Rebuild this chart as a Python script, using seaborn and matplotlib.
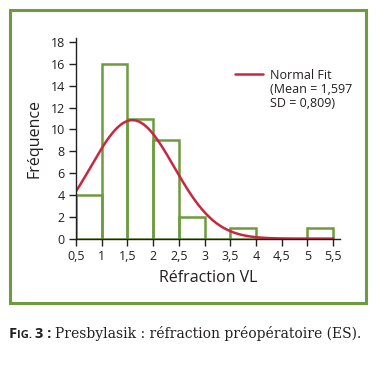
import matplotlib
matplotlib.use("Agg")
import matplotlib.pyplot as plt
import matplotlib.patches as mpatches
from matplotlib.ticker import FuncFormatter
import numpy as np
import seaborn as sns

# histogram bins (Réfraction VL) and counts
bin_edges = [0.5, 1.0, 1.5, 2.0, 2.5, 3.0, 3.5, 4.0, 4.5, 5.0, 5.5]
counts = [4, 16, 11, 9, 2, 0, 1, 0, 0, 1]
fit_mean = 1.597
fit_sd = 0.809
x_ticks = [0.5, 1, 1.5, 2, 2.5, 3, 3.5, 4, 4.5, 5, 5.5]
y_ticks = [0, 2, 4, 6, 8, 10, 12, 14, 16, 18]

GREEN = "#6e9b3f"
RED = "#c8283f"
TXT = "#231f20"

sns.set_theme(style="ticks")
plt.rcParams["font.family"] = ["Open Sans", "DejaVu Sans"]

fig = plt.figure(figsize=(3.76, 3.66), dpi=100)
ax = fig.add_axes([0.202, 0.348, 0.702, 0.549])

centers = [(a + b) / 2 for a, b in zip(bin_edges[:-1], bin_edges[1:])]
sns.histplot(x=centers, weights=counts, bins=bin_edges, fill=False,
             element="bars", color=GREEN, linewidth=1.8, ax=ax)
for p in ax.patches:
    p.set_edgecolor(GREEN)

# normal fit scaled to counts
bw = bin_edges[1] - bin_edges[0]
xs = np.linspace(bin_edges[0], bin_edges[-1], 300)
ys = sum(counts) * bw * np.exp(-0.5 * ((xs - fit_mean) / fit_sd) ** 2) / (fit_sd * np.sqrt(2 * np.pi))
sns.lineplot(x=xs, y=ys, color=RED, linewidth=1.8, ax=ax, label="Normal Fit")

ax.set_xlim(0.5, 5.63)
ax.set_ylim(0, 18.4)
ax.set_xticks(x_ticks)
ax.set_yticks(y_ticks)
fmt = FuncFormatter(lambda v, _: ("%g" % v).replace(".", ","))
ax.xaxis.set_major_formatter(fmt)
ax.tick_params(direction="out", length=5, width=1, color=TXT, labelsize=9,
               labelcolor=TXT, pad=3)
for s in ["top", "right"]:
    ax.spines[s].set_visible(False)
for s in ["left", "bottom"]:
    ax.spines[s].set_color(TXT)
    ax.spines[s].set_linewidth(1)
ax.set_xlabel("Réfraction VL", fontsize=11.5, color=TXT, labelpad=5)
ax.set_ylabel("Fréquence", fontsize=11.5, color=TXT, labelpad=6)

leg = ax.legend(loc="upper left", bbox_to_anchor=(0.585, 0.87), frameon=False,
                fontsize=9, handlelength=2.2, handletextpad=0.6,
                labelcolor=TXT, borderaxespad=0)

# fit parameters under the legend label
renderer = fig.canvas.get_renderer()
fig.canvas.draw()
lt = leg.get_texts()[0]
lbb = lt.get_window_extent(renderer)
fig.text(lbb.x0 / fig.bbox.width, (lbb.y0 - 1) / fig.bbox.height,
         "(Mean = 1,597\nSD = 0,809)", fontsize=9, color=TXT,
         ha="left", va="top", linespacing=1.15)

# green frame
fig.patches.append(mpatches.Rectangle((0.027, 0.172), 0.947, 0.80,
                                      transform=fig.transFigure, fill=False,
                                      edgecolor=GREEN, linewidth=2.2))

# caption
x0 = 9 / 376
yb = 0.0765
parts = [("F", 10.5, "bold", ["Open Sans"]),
         ("IG. ", 8, "bold", ["Open Sans"]),
         ("3 : ", 10.5, "bold", ["Open Sans"])]
for txt, size, weight, fam in parts:
    t = fig.text(x0, yb, txt, fontsize=size, fontweight=weight, family=fam,
                 color=TXT, va="baseline", ha="left")
    bb = t.get_window_extent(renderer)
    x0 += bb.width / fig.bbox.width
t = fig.text(x0, yb, "Presbylasik : réfraction préopératoire (ES).", fontsize=10,
             family=["DejaVu Serif"], color=TXT, va="baseline", ha="left")
w = t.get_window_extent(renderer).width
t.set_fontsize(10 * (360 - x0 * 376) / w)

fig.savefig("out.png", dpi=100)
